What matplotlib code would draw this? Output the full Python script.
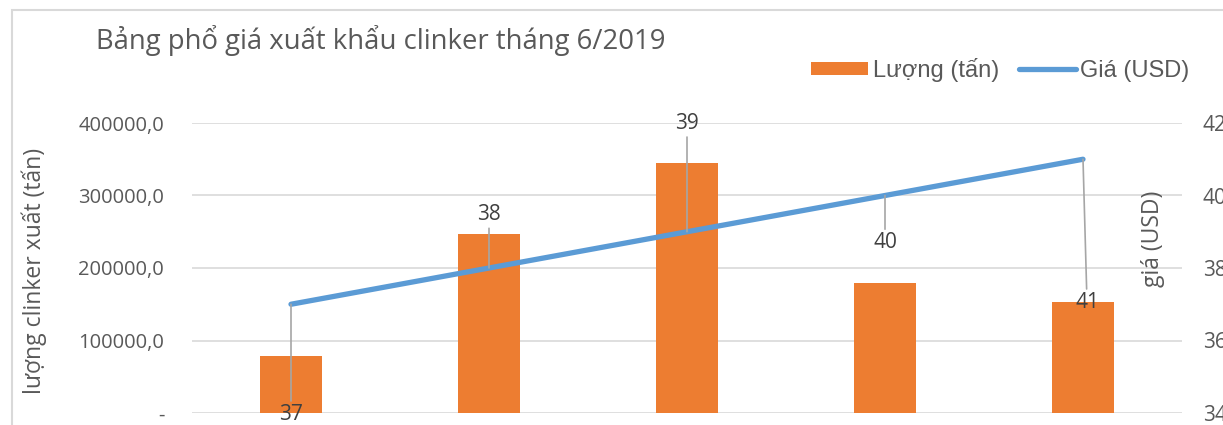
import matplotlib.pyplot as plt
from matplotlib.patches import Rectangle

plt.rcParams['font.family'] = ['Open Sans', 'DejaVu Sans']

# dữ liệu
categories = ['1', '2', '3', '4', '5']
luong = [79000, 247000, 345000, 179000, 153500]
gia = [37, 38, 39, 40, 41]
# vị trí nhãn (pixel) so với điểm
label_offsets = [(0, -110), (0, 53), (0, 108), (0, -47), (4, -143)]

bar_color = '#ed7d31'
line_color = '#5b9bd5'
txt = '#595959'

fig = plt.figure(figsize=(12.23, 4.25), dpi=100)
ax = fig.add_axes([192 / 1223, 1 - 413 / 425, 990 / 1223, 290 / 425])

x = list(range(len(categories)))
ax.bar(x, luong, width=0.31, color=bar_color, zorder=2, label='Lượng (tấn)')
ax.set_xlim(-0.5, len(categories) - 0.5)
ax.set_ylim(0, 400000)
ax.set_yticks([0, 100000, 200000, 300000, 400000])
ax.set_yticklabels(['-', '100000,0', '200000,0', '300000,0', '400000,0'])
ax.set_xticks([])
ax.grid(axis='y', color='#d9d9d9', linewidth=1.2, zorder=0)
ax.tick_params(axis='y', length=0, pad=20, labelsize=14.5, labelcolor=txt)
for s in ax.spines.values():
    s.set_visible(False)
ax.set_ylabel('lượng clinker xuất (tấn)', fontsize=16.5, color=txt)
ax.yaxis.set_label_coords(-0.146, 0.49)

ax2 = ax.twinx()
ax2.plot(x, gia, color=line_color, linewidth=3.8, solid_capstyle='round', zorder=3, label='Giá (USD)')
ax2.set_ylim(34, 42)
ax2.set_yticks([34, 36, 38, 40, 42])
ax2.tick_params(axis='y', length=0, pad=15, labelsize=15, labelcolor=txt)
for s in ax2.spines.values():
    s.set_visible(False)
ax2.set_ylabel('giá (USD)', fontsize=16.5, color=txt)
ax2.yaxis.set_label_coords(0.959, 0.6)

for xi, yi, (dx, dy) in zip(x, gia, label_offsets):
    ax2.annotate(str(yi), xy=(xi, yi), xytext=(dx, dy), textcoords='offset pixels',
                 ha='center', va='center', fontsize=15, color='#404040',
                 arrowprops=dict(arrowstyle='-', color='#a6a6a6', lw=1.2,
                                 shrinkA=0, shrinkB=0))

fig.text(96 / 1223, 1 - 40 / 425, 'Bảng phổ giá xuất khẩu clinker tháng 6/2019',
         fontsize=19.8, color=txt, va='center', ha='left')

h1, l1 = ax.get_legend_handles_labels()
h2, l2 = ax2.get_legend_handles_labels()
fig.legend(h1 + h2, l1 + l2, loc='center right', bbox_to_anchor=(1206 / 1223, 1 - 70 / 425),
           ncol=2, frameon=False, prop={'family': 'Liberation Sans', 'size': 17},
           labelcolor=txt, handlelength=2.4, handleheight=0.5, handletextpad=0.2,
           columnspacing=0.85, borderpad=0.2)

fig.patches.append(Rectangle((12 / 1223, -0.1), 1.2, 1.1 - 10 / 425, transform=fig.transFigure,
                             fill=False, edgecolor='#d9d9d9', linewidth=1.5))

fig.savefig('out.png', dpi=100)
